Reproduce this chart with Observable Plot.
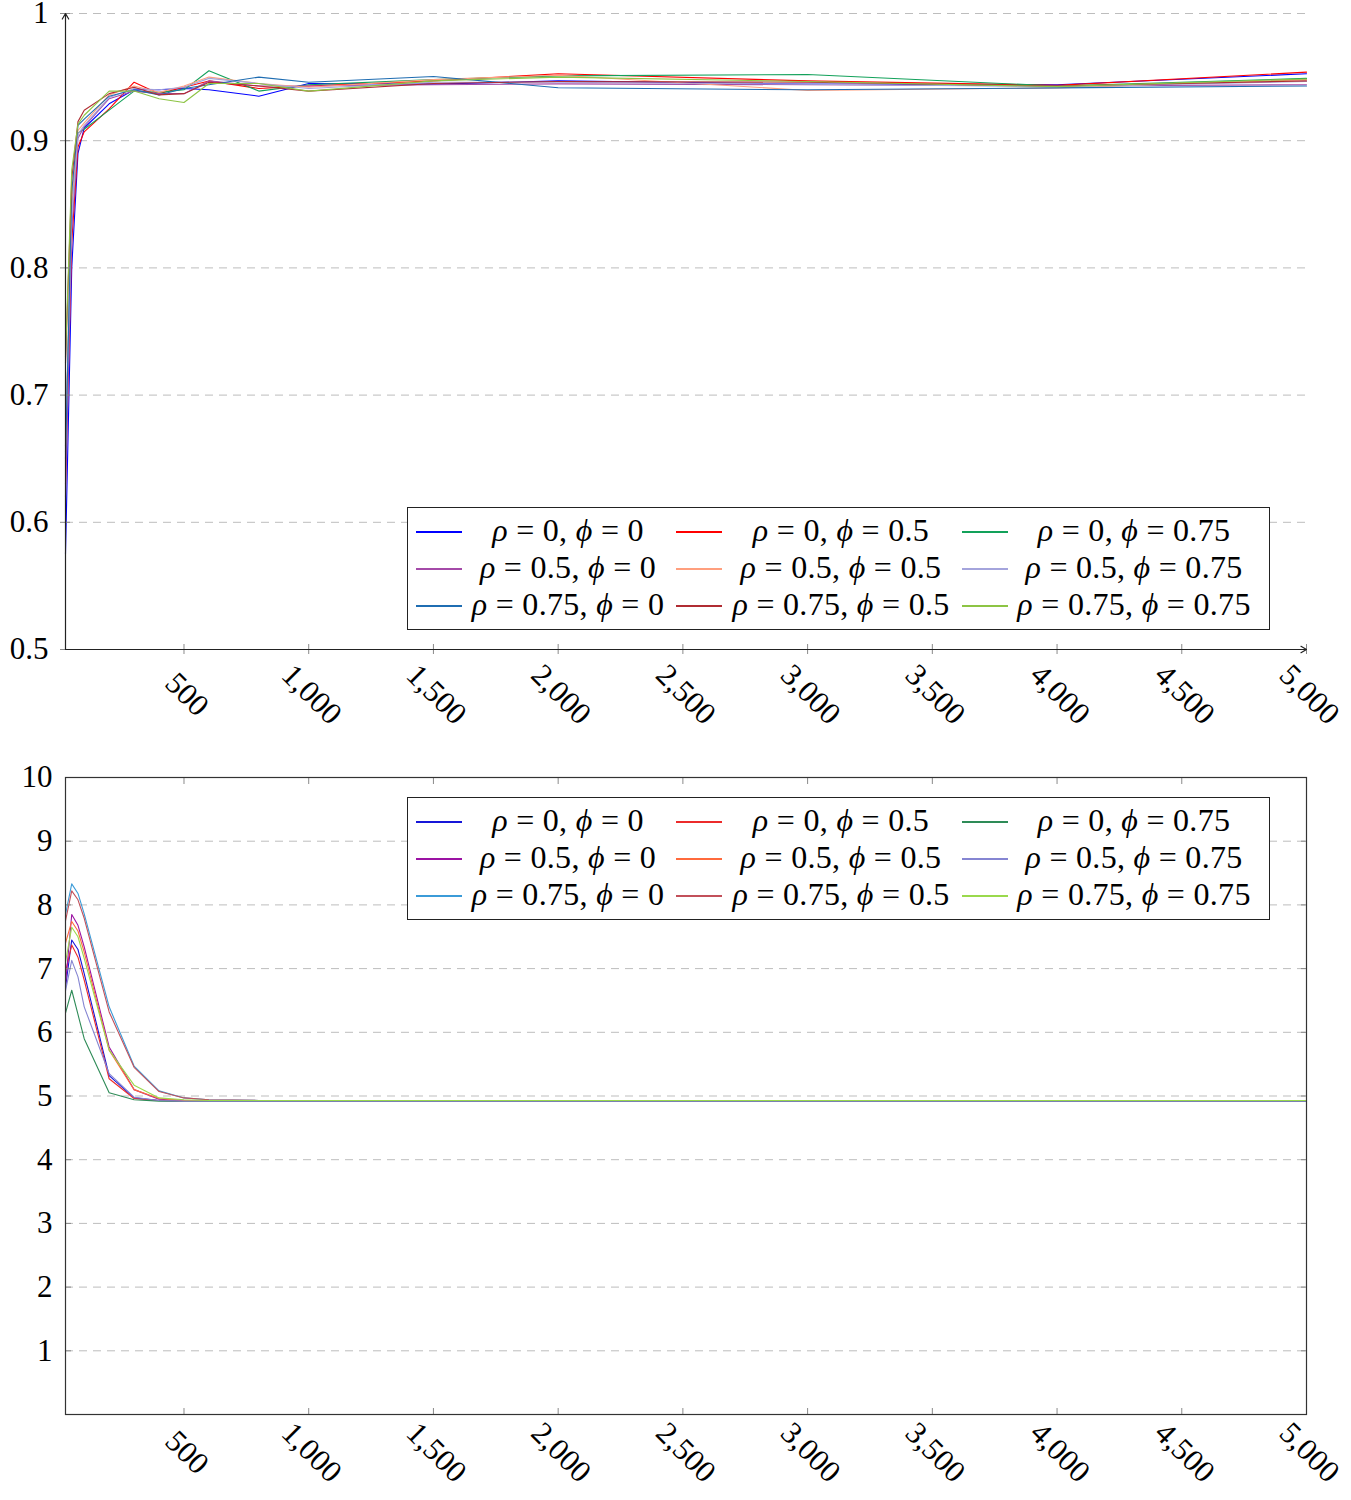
<!DOCTYPE html>
<html>
<head>
<meta charset="utf-8">
<script src="https://cdn.jsdelivr.net/npm/d3@7"></script>
<script src="https://cdn.jsdelivr.net/npm/@observablehq/plot@0.6"></script>
<style>
  body { margin: 0; background: #fff; }
  .panel { position: relative; width: 1351px; }
  .legend {
    position: absolute; box-sizing: border-box; width: 863px; height: 123px;
    border: 1.3px solid #222; background: #fff;
    font-family: "Liberation Serif", "DejaVu Serif", serif; font-size: 32px; color: #000;
  }
  .legend .sw { position: absolute; width: 46px; height: 1.5px; }
  .legend .lab { position: absolute; width: 300px; text-align: center; line-height: 36px; white-space: nowrap; letter-spacing: 0.3px; }
</style>
</head>
<body>
<div id="upper" class="panel"></div>
<div id="lower" class="panel"></div>
<script>
// Sample sizes shared by every series
const sizes = [25, 50, 75, 100, 200, 300, 400, 500, 600, 800, 1000, 1500, 2000, 3000, 4000, 5000];
const rhos = [0, 0, 0, 0.5, 0.5, 0.5, 0.75, 0.75, 0.75];
const phis = [0, 0.5, 0.75, 0, 0.5, 0.75, 0, 0.5, 0.75];

// Upper panel series (one array per rho/phi pair)
const upperR0P0     = [0.575, 0.80, 0.890, 0.910, 0.929, 0.940, 0.940, 0.941, 0.940, 0.935, 0.945, 0.9445, 0.947, 0.9445, 0.944, 0.9526];
const upperR0P05    = [0.630, 0.82, 0.895, 0.907, 0.925, 0.946, 0.937, 0.942, 0.947, 0.941, 0.943, 0.947, 0.9526, 0.947, 0.9435, 0.9539];
const upperR0P075   = [0.655, 0.85, 0.906, 0.909, 0.924, 0.939, 0.938, 0.940, 0.955, 0.939, 0.944, 0.948, 0.951, 0.952, 0.943, 0.949];
const upperR05P0    = [0.620, 0.83, 0.902, 0.911, 0.933, 0.939, 0.937, 0.937, 0.947, 0.943, 0.943, 0.944, 0.9447, 0.944, 0.943, 0.944];
const upperR05P05   = [0.660, 0.85, 0.908, 0.914, 0.936, 0.943, 0.938, 0.943, 0.950, 0.945, 0.942, 0.948, 0.9515, 0.9395, 0.9415, 0.948];
const upperR05P075  = [0.660, 0.84, 0.905, 0.912, 0.934, 0.941, 0.940, 0.942, 0.949, 0.945, 0.941, 0.946, 0.946, 0.9445, 0.9425, 0.9465];
const upperR075P0   = [0.650, 0.86, 0.912, 0.917, 0.935, 0.940, 0.936, 0.941, 0.944, 0.950, 0.946, 0.9505, 0.9416, 0.940, 0.9415, 0.943];
const upperR075P05  = [0.725, 0.87, 0.915, 0.924, 0.937, 0.942, 0.936, 0.937, 0.946, 0.943, 0.939, 0.945, 0.9465, 0.946, 0.943, 0.947];
const upperR075P075 = [0.730, 0.877, 0.913, 0.920, 0.939, 0.939, 0.933, 0.930, 0.945, 0.945, 0.939, 0.947, 0.950, 0.9465, 0.9425, 0.9485];

// Lower panel series
const lowerR0P0     = [6.70, 7.45, 7.30, 6.92, 5.32, 4.97, 4.93, 4.92, 4.92, 4.92, 4.92, 4.92, 4.92, 4.92, 4.92, 4.92];
const lowerR0P05    = [6.95, 7.37, 7.18, 6.82, 5.27, 4.96, 4.93, 4.92, 4.92, 4.92, 4.92, 4.92, 4.92, 4.92, 4.92, 4.92];
const lowerR0P075   = [6.30, 6.66, 6.28, 5.90, 5.05, 4.94, 4.92, 4.92, 4.92, 4.92, 4.92, 4.92, 4.92, 4.92, 4.92, 4.92];
const lowerR05P0    = [6.75, 7.85, 7.68, 7.34, 5.77, 5.10, 4.95, 4.93, 4.93, 4.93, 4.93, 4.93, 4.93, 4.93, 4.93, 4.93];
const lowerR05P05   = [7.40, 7.74, 7.59, 7.26, 5.72, 5.10, 4.96, 4.93, 4.93, 4.93, 4.93, 4.93, 4.93, 4.93, 4.93, 4.93];
const lowerR05P075  = [6.65, 7.13, 6.87, 6.40, 5.35, 4.98, 4.93, 4.92, 4.92, 4.92, 4.92, 4.92, 4.92, 4.92, 4.92, 4.92];
const lowerR075P0   = [7.85, 8.33, 8.18, 7.86, 6.40, 5.47, 5.08, 4.97, 4.94, 4.93, 4.93, 4.93, 4.93, 4.93, 4.93, 4.93];
const lowerR075P05  = [7.75, 8.22, 8.08, 7.79, 6.32, 5.45, 5.07, 4.97, 4.94, 4.93, 4.93, 4.93, 4.93, 4.93, 4.93, 4.93];
const lowerR075P075 = [7.10, 7.65, 7.50, 7.16, 5.72, 5.17, 4.97, 4.94, 4.93, 4.93, 4.93, 4.93, 4.93, 4.93, 4.93, 4.93];

// Axis ticks
const xTicks = [500, 1000, 1500, 2000, 2500, 3000, 3500, 4000, 4500, 5000];
const upperYTicks = [0.5, 0.6, 0.7, 0.8, 0.9, 1];
const lowerYTicks = [1, 2, 3, 4, 5, 6, 7, 8, 9, 10];

// Line colours
const upperColors = ["#0000ff", "#ff0000", "#12a15a", "#a44aa8", "#ff9f7e", "#a4a4dc", "#1f6db2", "#b02c32", "#8dc444"];
const lowerColors = ["#1616d8", "#ec2b2b", "#2e8b57", "#9b12a3", "#ff6a3c", "#8585d2", "#3b9bd8", "#c2505a", "#9ad94c"];

const upperSeries = [upperR0P0, upperR0P05, upperR0P075, upperR05P0, upperR05P05, upperR05P075, upperR075P0, upperR075P05, upperR075P075];
const lowerSeries = [lowerR0P0, lowerR0P05, lowerR0P075, lowerR05P0, lowerR05P05, lowerR05P075, lowerR075P0, lowerR075P05, lowerR075P075];

const keys = rhos.map((r, i) => `ρ = ${r}, ϕ = ${phis[i]}`);
const toRows = (series) => series.flatMap((vals, i) => vals.map((v, j) => ({series: keys[i], n: sizes[j], value: v})));

const xDomain = [sizes[0], sizes[sizes.length - 1]];
const fmtX = d3.format(",");
const font = '"Liberation Serif", "DejaVu Serif", serif';
const dash = "8,6";
const tickGray = "#8a8a8a";

// Upper panel: axis lines with arrows, no frame
const upper = Plot.plot({
  width: 1351, height: 760,
  marginLeft: 65, marginRight: 45, marginTop: 13, marginBottom: 111,
  style: {fontFamily: font, background: "#fff", color: "#000"},
  x: {domain: xDomain},
  y: {domain: [upperYTicks[0], upperYTicks[upperYTicks.length - 1]]},
  color: {domain: keys, range: upperColors},
  marks: [
    Plot.gridY({ticks: upperYTicks.slice(1), stroke: "#bdbdbd", strokeOpacity: 1, strokeDasharray: dash}),
    Plot.line(toRows(upperSeries), {x: "n", y: "value", z: "series", stroke: "series", strokeWidth: 1.1}),
    Plot.axisY({ticks: upperYTicks, tickSize: 10, dx: 5, tickFormat: () => "", stroke: tickGray, label: null}),
    Plot.axisY({ticks: upperYTicks, tickSize: 0, tickPadding: 17, tickFormat: (d) => String(d), fontSize: 31, fill: "#000", label: null}),
    Plot.axisX({ticks: xTicks, tickSize: 10, dy: -5, tickFormat: () => "", stroke: tickGray, label: null}),
    Plot.text(xTicks, {x: (d) => d, frameAnchor: "bottom", text: (d) => fmtX(d), rotate: 45, textAnchor: "middle", dx: -4, dy: 52, fontSize: 31, fill: "#000"}),
    Plot.arrow([0], {x1: () => xDomain[0], x2: () => xDomain[0], y1: () => upperYTicks[0], y2: () => upperYTicks[upperYTicks.length - 1], stroke: "#222", strokeWidth: 1.2, headLength: 8}),
    Plot.arrow([0], {x1: () => xDomain[0], x2: () => xDomain[1], y1: () => upperYTicks[0], y2: () => upperYTicks[0], stroke: "#222", strokeWidth: 1.2, headLength: 8})
  ]
});

// Lower panel: boxed axes with inward ticks
const lower = Plot.plot({
  width: 1351, height: 740,
  marginLeft: 65, marginRight: 45, marginTop: 17, marginBottom: 86,
  style: {fontFamily: font, background: "#fff", color: "#000"},
  x: {domain: xDomain},
  y: {domain: [0, 10]},
  color: {domain: keys, range: lowerColors},
  marks: [
    Plot.gridY({ticks: lowerYTicks.slice(0, -1), stroke: "#bdbdbd", strokeOpacity: 1, strokeDasharray: dash}),
    Plot.line(toRows(lowerSeries), {x: "n", y: "value", z: "series", stroke: "series", strokeWidth: 1.1}),
    Plot.axisY({ticks: lowerYTicks, tickSize: 6, dx: 6, tickFormat: () => "", stroke: tickGray, label: null}),
    Plot.axisY({anchor: "right", ticks: lowerYTicks, tickSize: 6, dx: -6, tickFormat: () => "", stroke: tickGray, label: null}),
    Plot.axisX({ticks: xTicks, tickSize: 6, dy: -6, tickFormat: () => "", stroke: tickGray, label: null}),
    Plot.axisX({anchor: "top", ticks: xTicks, tickSize: 6, dy: 6, tickFormat: () => "", stroke: tickGray, label: null}),
    Plot.axisY({ticks: lowerYTicks, tickSize: 0, tickPadding: 13, tickFormat: (d) => String(d), fontSize: 31, fill: "#000", label: null}),
    Plot.text(xTicks, {x: (d) => d, frameAnchor: "bottom", text: (d) => fmtX(d), rotate: 45, textAnchor: "middle", dx: -4, dy: 45, fontSize: 31, fill: "#000"}),
    Plot.frame({stroke: "#333", strokeWidth: 1.2})
  ]
});

document.getElementById("upper").append(upper);
document.getElementById("lower").append(lower);

// Legends inside each plot area, three columns by three rows
function legend(host, colors, top) {
  const box = document.createElement("div");
  box.className = "legend";
  box.style.left = "407px";
  box.style.top = top + "px";
  const swLeft = [8, 268, 554];
  const labCenter = [160, 433, 726];
  const rowMid = [23, 60, 97];
  keys.forEach((k, i) => {
    const row = Math.floor(i / 3), col = i % 3;
    const sw = document.createElement("div");
    sw.className = "sw";
    sw.style.left = swLeft[col] + "px";
    sw.style.top = rowMid[row] + "px";
    sw.style.background = colors[i];
    box.append(sw);
    const lab = document.createElement("div");
    lab.className = "lab";
    lab.style.left = (labCenter[col] - 150) + "px";
    lab.style.top = (rowMid[row] - 19) + "px";
    lab.innerHTML = `<i>ρ</i> = ${rhos[i]}, <i>ϕ</i> = ${phis[i]}`;
    box.append(lab);
  });
  host.append(box);
}
legend(document.getElementById("upper"), upperColors, 507);
legend(document.getElementById("lower"), lowerColors, 37);
</script>
</body>
</html>
